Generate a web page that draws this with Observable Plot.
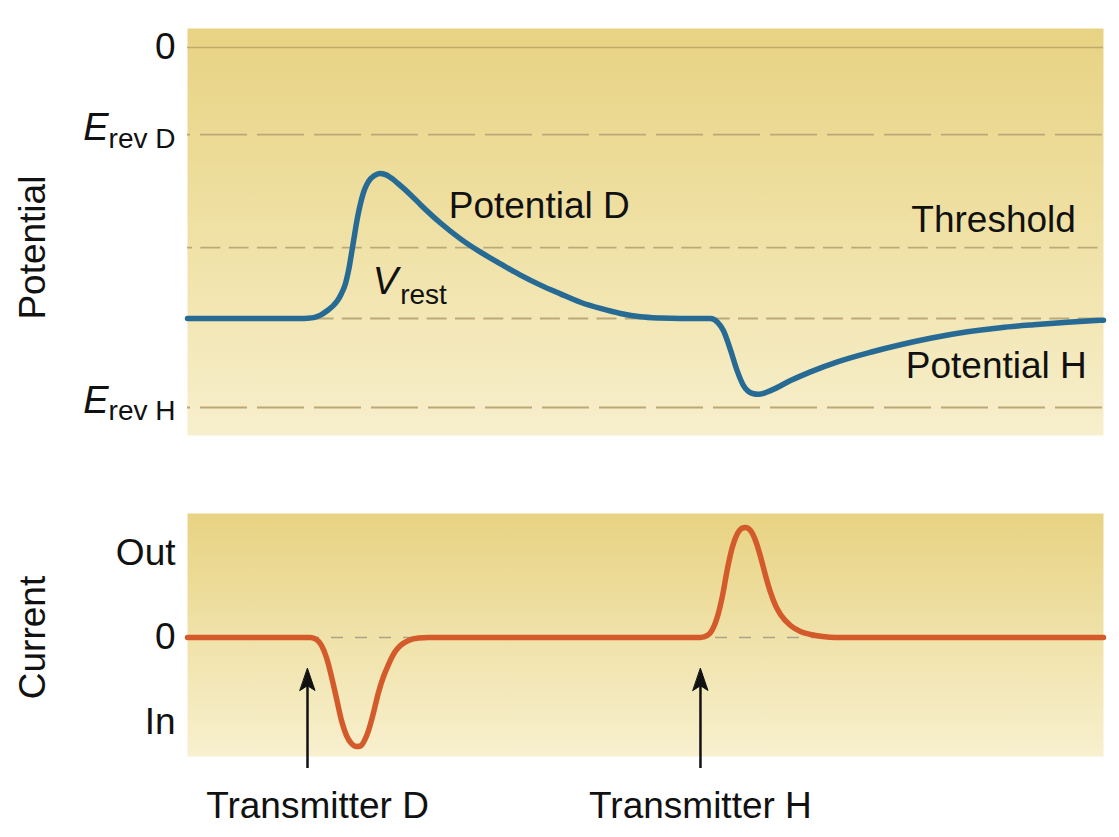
<!DOCTYPE html>
<html><head><meta charset="utf-8">
<script src="https://cdn.jsdelivr.net/npm/d3@7"></script>
<script src="https://cdn.jsdelivr.net/npm/@observablehq/plot@0.6"></script>
<style>
body{margin:0;background:#fff;}
#chart{width:1119px;height:837px;}
#chart svg{display:block;}
</style></head><body><div id="chart"></div>
<script>
const FONT = "'Liberation Sans', Arial, Helvetica, sans-serif";

// ---- Potential panel data (time in arbitrary units 0..100, potential in mV-like units)
const levelNames  = ["0", "Erev D", "Threshold", "Vrest", "Erev H"];
const levelValues = [0, -20.9, -48.0, -65.0, -86.35];

const potentialTime  = [0, 12.34, 13.1, 13.76, 14.52, 15.28, 15.83, 16.38, 16.81, 17.25, 17.58, 18.01, 18.56, 18.89, 19.21, 19.54, 19.98, 20.41, 20.96, 21.62, 22.16, 23.25, 24.34, 25.44, 27.62, 29.8, 31.99, 34.17, 36.35, 38.54, 40.72, 42.9, 45.09, 47.27, 49.45, 51.64, 53.82, 57.1, 57.9, 58.5, 59.3, 60.0, 60.7, 61.7, 62.34, 63.65, 65.83, 68.01, 70.96, 74.56, 77.84, 81.11, 85.15, 88.76, 92.36, 96.07, 100];
const potentialValue = [-65, -65, -64.95, -64.8, -64.2, -63.1, -62.1, -60.7, -59.0, -56.6, -53.5, -48.0, -40.8, -37.4, -34.8, -33.0, -31.5, -30.7, -30.2, -30.5, -31.2, -33.15, -35.3, -37.7, -42.1, -45.9, -49.1, -51.9, -54.6, -57.0, -59.1, -61.1, -62.6, -63.8, -64.6, -64.9, -65, -65, -66, -67.9, -72.7, -77.5, -81.1, -83.0, -83.2, -82.3, -79.9, -77.8, -75.4, -73.1, -71.3, -69.75, -68.2, -67.2, -66.5, -65.9, -65.4];

const annotationTexts  = ["Potential D", "Threshold", "Potential H"];
const annotationTimes  = [38.4, 88.0, 88.3];
const annotationValues = [-38.0, -41.3, -76.5];

// ---- Current panel data
const currentTime  = [0, 13.43, 14.08, 14.63, 15.17, 15.72, 16.27, 16.81, 17.36, 17.9, 18.45, 18.89, 19.32, 19.76, 20.31, 20.85, 21.4, 21.94, 22.6, 23.25, 24.13, 25.22, 26.31,
                      56.0, 56.77, 57.31, 57.86, 58.41, 58.95, 59.5, 60.04, 60.48, 60.92, 61.46, 62.01, 62.55, 63.1, 63.65, 64.19, 64.74, 65.83, 66.92, 68.01, 69.32, 70.74, 100];
const currentValue = [0, 0, -0.024, -0.095, -0.237, -0.462, -0.722, -0.982, -1.160, -1.254, -1.290, -1.284, -1.219, -1.101, -0.888, -0.651, -0.462, -0.32, -0.178, -0.095, -0.036, -0.006, 0,
                      0, 0.024, 0.095, 0.249, 0.497, 0.817, 1.077, 1.231, 1.290, 1.302, 1.266, 1.148, 0.959, 0.734, 0.533, 0.379, 0.272, 0.142, 0.071, 0.036, 0.012, 0, 0];

const currentTickValues = [1, 0, -1];
const currentTickLabels = ["Out", "0", "In"];

const transmitterNames      = ["Transmitter D", "Transmitter H"];
const transmitterTimes      = [13.1, 56.0];
const transmitterLabelTimes = [14.2, 56.0];

// ---- tables built from arrays
const potential = potentialTime.map((t, i) => ({t, v: potentialValue[i]}));
const current = currentTime.map((t, i) => ({t, c: currentValue[i]}));
const levels = levelNames.map((name, i) => ({name, value: levelValues[i]}));
const annotations = annotationTexts.map((text, i) => ({text, t: annotationTimes[i], v: annotationValues[i]}));
const transmitters = transmitterNames.map((name, i) => ({name, t: transmitterTimes[i], lt: transmitterLabelTimes[i]}));
const lvl = name => levels.find(d => d.name === name).value;

function addGradient(svg, id, stops) {
  const defs = d3.select(svg).insert("defs", ":first-child");
  const g = defs.append("linearGradient").attr("id", id)
    .attr("x1", 0).attr("y1", 0).attr("x2", 0).attr("y2", 1);
  stops.forEach(([o, c]) => g.append("stop").attr("offset", o).attr("stop-color", c));
}

const baseStyle = {fontFamily: FONT, fontSize: "37px", color: "#111", background: "transparent", overflow: "visible"};
const SUB = 28, BIG = 38;

const potentialPlot = Plot.plot({
  width: 1119, height: 470,
  marginLeft: 187, marginRight: 16, marginTop: 28, marginBottom: 35,
  style: baseStyle,
  x: {domain: [0, 100], axis: null},
  y: {domain: [-93.07, 4.56]},
  marks: [
    Plot.frame({fill: "url(#gradTop)"}),
    Plot.ruleY(levels.filter(d => d.name === "0"), {y: "value", stroke: "#BFA96C", strokeWidth: 1.6}),
    Plot.ruleY(levels.filter(d => d.name.startsWith("Erev")), {y: "value", stroke: "#BCA877", strokeWidth: 1.8, strokeDasharray: "47,10", strokeDashoffset: 44}),
    Plot.ruleY(levels.filter(d => d.name === "Threshold" || d.name === "Vrest"), {y: "value", stroke: "#BCA97A", strokeWidth: 1.8, strokeDasharray: "20,8.3", strokeDashoffset: 15}),
    Plot.line(potential, {x: "t", y: "v", stroke: "#276A93", strokeWidth: 5.5, curve: "monotone-x"}),
    Plot.axisY({ticks: [lvl("0")], tickFormat: () => "0", tickSize: 0, tickPadding: 12, label: null}),
    // E_rev labels
    Plot.text(levels.filter(d => d.name.startsWith("Erev")), {frameAnchor: "left", y: "value", text: () => "E", fontStyle: "italic", fontSize: BIG, textAnchor: "end", dx: -79, dy: -7}),
    Plot.text(levels.filter(d => d.name.startsWith("Erev")), {frameAnchor: "left", y: "value", text: d => d.name.replace("Erev", "rev"), fontSize: SUB, textAnchor: "end", dx: -12, dy: 4}),
    // V_rest label
    Plot.text([{t: 23.0, v: -55.9}], {x: "t", y: "v", text: () => "V", fontStyle: "italic", fontSize: BIG, textAnchor: "end", dy: 1}),
    Plot.text([{t: 23.0, v: -55.9}], {x: "t", y: "v", text: () => "rest", fontSize: SUB, textAnchor: "start", dx: 2, dy: 14}),
    // trace labels
    Plot.text(annotations, {x: "t", y: "v", text: "text"}),
    // axis title
    Plot.text(["Potential"], {frameAnchor: "left", y: lvl("Threshold"), text: d => d, rotate: -90, textAnchor: "middle", dx: -154})
  ]
});
addGradient(potentialPlot, "gradTop", [[0, "#E8D383"], [0.55, "#F0E2A8"], [1, "#F7EFCD"]]);

const currentPlot = Plot.plot({
  width: 1119, height: 367,
  marginLeft: 187, marginRight: 16, marginTop: 43, marginBottom: 81,
  style: baseStyle,
  x: {domain: [0, 100], axis: null},
  y: {domain: [-1.408, 1.467]},
  marks: [
    Plot.frame({fill: "url(#gradBottom)"}),
    Plot.ruleY([0], {stroke: "#ACA48A", strokeWidth: 1.6, strokeDasharray: "12,12"}),
    Plot.line(current, {x: "t", y: "c", stroke: "#D35A2B", strokeWidth: 5.5, curve: "monotone-x"}),
    Plot.axisY({ticks: currentTickValues, tickFormat: d => currentTickLabels[currentTickValues.indexOf(d)], tickSize: 0, tickPadding: 12, label: null}),
    Plot.ruleX(transmitters, {x: "t", y1: -1.55, y2: -0.57, stroke: "#111", strokeWidth: 2.5}),
    Plot.vector(transmitters, {x: "t", y: -0.627, length: 22, r: 7.5, rotate: 0, anchor: "start",
      shape: {draw(ctx, l, r) { ctx.moveTo(0, -l); ctx.lineTo(r, 0); ctx.lineTo(0, -l * 0.22); ctx.lineTo(-r, 0); ctx.closePath(); }},
      fill: "#111", stroke: "#111", strokeWidth: 1, fillOpacity: 1}),
    Plot.text(transmitters, {x: "lt", y: -2.0, text: "name"}),
    Plot.text(["Current"], {frameAnchor: "left", y: 0, text: d => d, rotate: -90, textAnchor: "middle", dx: -154})
  ]
});
addGradient(currentPlot, "gradBottom", [[0, "#E8D383"], [0.55, "#F0E3AC"], [1, "#F8F0CF"]]);

document.getElementById("chart").append(potentialPlot, currentPlot);
</script></body></html>
